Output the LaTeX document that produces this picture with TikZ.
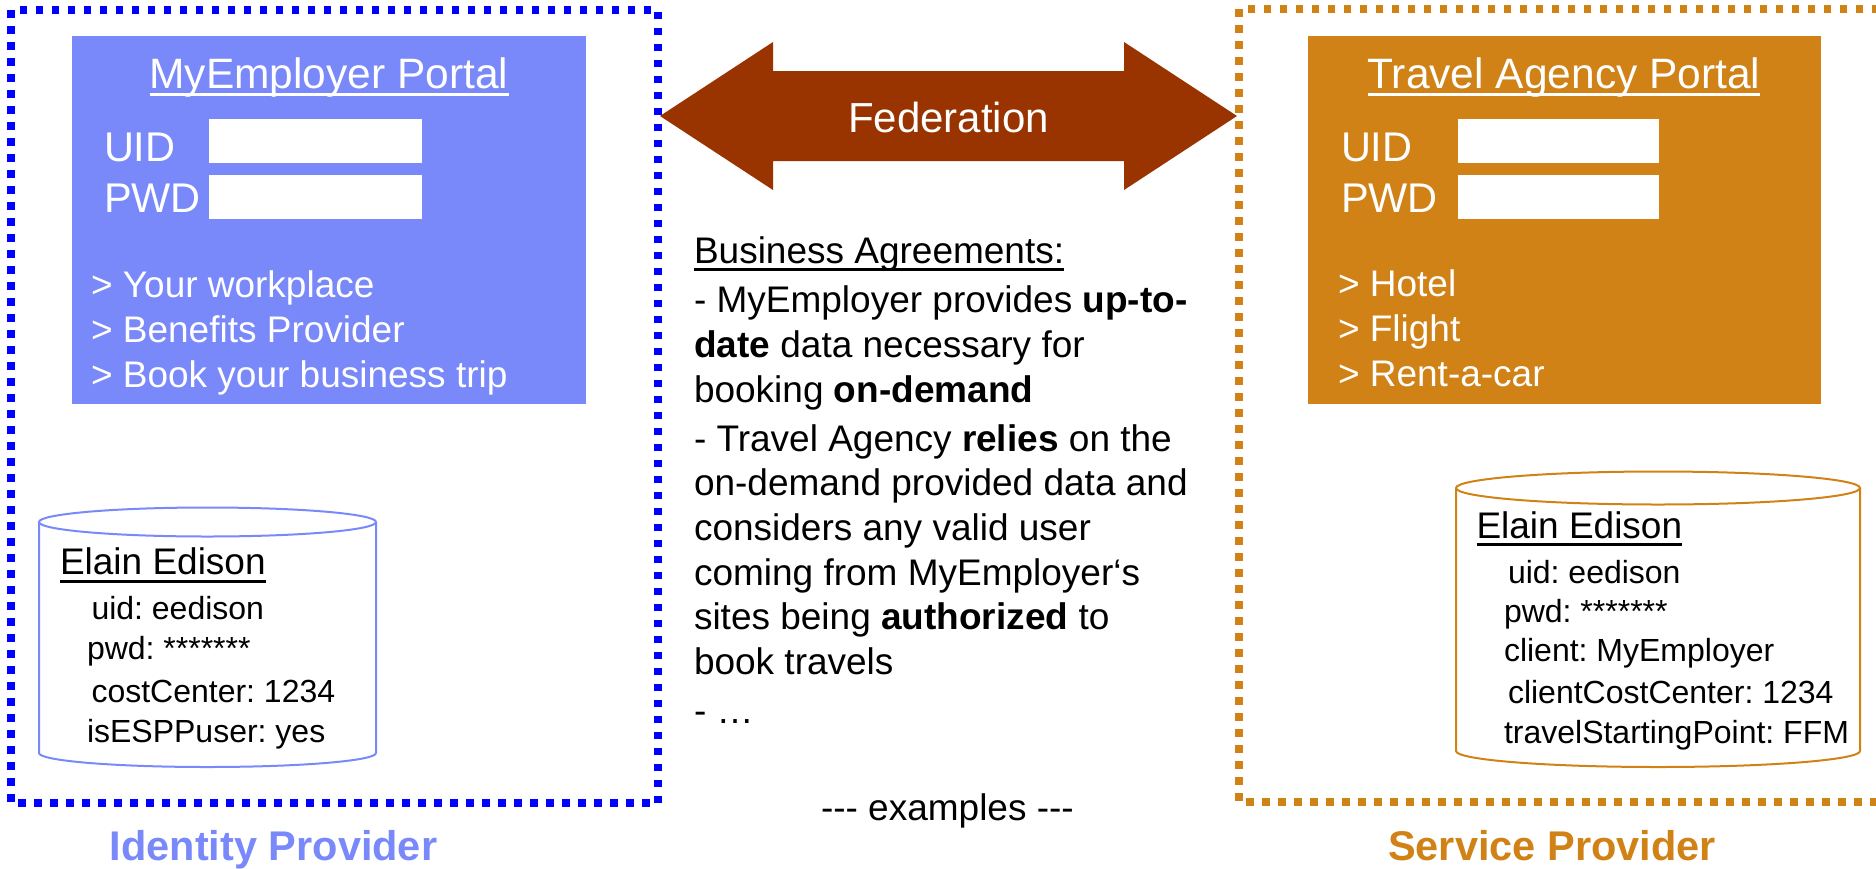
\documentclass[tikz,border=0pt]{standalone}
\usepackage{fontspec}
\setmainfont{Liberation Sans}[Ligatures=TeXOff]
\frenchspacing
\definecolor{idp}{HTML}{7A89FA}
\definecolor{sp}{HTML}{D08216}
\definecolor{fed}{HTML}{993300}
\definecolor{dotblue}{HTML}{0000FF}
\newcommand\setfs[1]{\fontsize{#1}{#1}\selectfont}
\begin{document}
\begin{tikzpicture}[x=1pt,y=-1pt,
  every node/.style={inner sep=0pt, outer sep=0pt},
  border/.style={line width=7.5pt, dash pattern=on 7.5pt off 8.5pt},
  portal/.style={anchor=north west, minimum width=#1, minimum height=368pt},
  field/.style={anchor=north west, fill=white, minimum width=#1, minimum height=44pt},
  title/.style={anchor=base, text=white, font=\setfs{42.5}},
  label/.style={anchor=base west, text=white, font=\setfs{41.5}},
  item/.style={anchor=base west, text=white, font=\setfs{37}},
  para/.style={anchor=base west, font=\setfs{37}},
  head/.style={anchor=base west, font=\setfs{37}},
  attr/.style={anchor=base west, font=\setfs{32}},
  role/.style={anchor=base, font=\bfseries\setfs{41.5}},
  uline/.style={line width=3pt}
]
\useasboundingbox (0,0) rectangle (1876,868);

% provider frames
\draw[border, dotblue] (11,10) rectangle (658,803);
\draw[border, sp] (1895,9) -- (1239,9) -- (1239,802) -- (1895,802);

% portals
\node[portal=514pt, fill=idp] (idportal) at (72,36) {};
\node[portal=513pt, fill=sp] (spportal) at (1308,36) {};

\node[title] (idtitle) at (329,88) {MyEmployer Portal};
\draw[uline, white] ([yshift=-6pt]idtitle.base west) -- ([yshift=-6pt]idtitle.base east);
\node[label] (iduidl) at (104,161) {UID};
\node[label] (idpwdl) at (104,212) {PWD};
\node[field=213pt] (iduid) at (209,119) {};
\node[field=213pt] (idpwd) at (209,175) {};
\node[item] (idi1) at (91,297) {> Your workplace};
\node[item] (idi2) at (91,342) {> Benefits Provider};
\node[item] (idi3) at (91,387) {> Book your business trip};

\node[title] (sptitle) at (1564,88) {Travel Agency Portal};
\draw[uline, white] ([yshift=-6pt]sptitle.base west) -- ([yshift=-6pt]sptitle.base east);
\node[label] (spuidl) at (1341,161) {UID};
\node[label] (sppwdl) at (1341,212) {PWD};
\node[field=201pt] (spuid) at (1458,119) {};
\node[field=201pt] (sppwd) at (1458,175) {};
\node[item] (spi1) at (1338,296) {> Hotel};
\node[item] (spi2) at (1338,341) {> Flight};
\node[item] (spi3) at (1338,386) {> Rent-a-car};

% federation arrow
\fill[fed] (660,116) -- (773,42) -- (773,71) -- (1124,71) -- (1124,42) -- (1237,116)
  -- (1124,190) -- (1124,161) -- (773,161) -- (773,190) -- cycle;
\node[anchor=base, text=white, font=\setfs{42}] (fedl) at (948.5,132) {Federation};

% business agreements
\node[para] (ba1) at (694,263) {Business Agreements:};
\draw[uline, black] ([yshift=-6pt]ba1.base west) -- ([yshift=-6pt]ba1.base east);
\node[para] (ba2) at (694,312) {- MyEmployer provides \textbf{up-to-}};
\node[para] (ba3) at (694,357) {\textbf{date} data necessary for};
\node[para] (ba4) at (694,402) {booking \textbf{on-demand}};
\node[para] (ba5) at (694,451) {- Travel Agency \textbf{relies} on the};
\node[para] (ba6) at (694,495) {on-demand provided data and};
\node[para] (ba7) at (694,540) {considers any valid user};
\node[para] (ba8) at (694,585) {coming from MyEmployer‘s};
\node[para] (ba9) at (694,629) {sites being \textbf{authorized} to};
\node[para] (ba10) at (694,674) {book travels};
\node[para] (ba11) at (694,723) {- …};
\node[para] (ex) at (821,820) {--- examples ---};

% identity provider store
\draw[idp, line width=2pt] (207.5,522) ellipse [x radius=168.5pt, y radius=14.5pt];
\draw[idp, line width=2pt] (39,522) -- (39,753) arc[start angle=180, end angle=360, x radius=168.5pt, y radius=14pt] -- (376,522);
\node[head] (idname) at (60,574) {Elain Edison};
\draw[uline, black] ([yshift=-7pt]idname.base west) -- ([yshift=-7pt]idname.base east);
\node[attr] (ida1) at (91.5,619) {uid: eedison};
\node[attr] (ida2) at (87,659) {pwd: *******};
\node[attr] (ida3) at (91.5,702) {costCenter: 1234};
\node[attr] (ida4) at (87,742) {isESPPuser: yes};

% service provider store
\draw[sp, line width=2pt] (1658,488) ellipse [x radius=202pt, y radius=16.5pt];
\draw[sp, line width=2pt] (1456,488) -- (1456,751) arc[start angle=180, end angle=360, x radius=202pt, y radius=16pt] -- (1860,488);
\node[head] (spname) at (1476.5,538) {Elain Edison};
\draw[uline, black] ([yshift=-6pt]spname.base west) -- ([yshift=-6pt]spname.base east);
\node[attr] (spa1) at (1508,583) {uid: eedison};
\node[attr] (spa2) at (1504,622) {pwd: *******};
\node[attr] (spa3) at (1504,661) {client: MyEmployer};
\node[attr] (spa4) at (1508,703) {clientCostCenter: 1234};
\node[attr] (spa5) at (1504,743) {travelStartingPoint: FFM};

% roles
\node[role, text=idp] (idrole) at (273.5,860) {Identity Provider};
\node[role, text=sp] (sprole) at (1552,860) {Service Provider};
\end{tikzpicture}
\end{document}
